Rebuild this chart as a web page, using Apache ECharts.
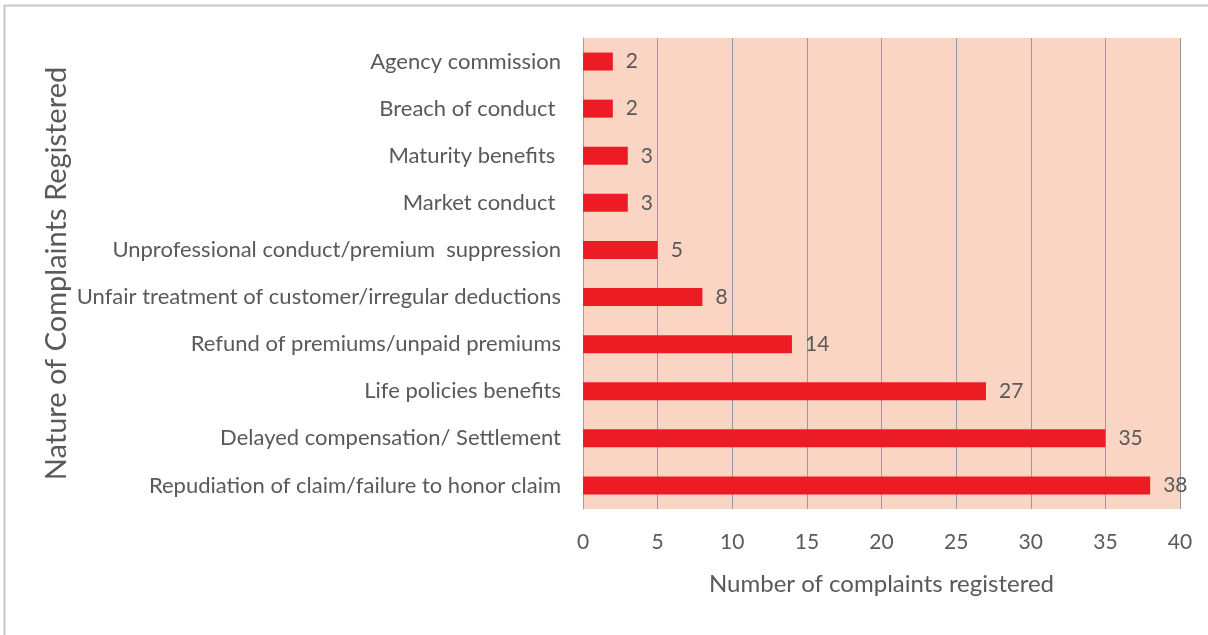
<!DOCTYPE html>
<html lang="en">
<head>
<meta charset="UTF-8">
<title>Nature of Complaints Registered</title>
<script src="https://cdn.jsdelivr.net/npm/echarts@6/dist/echarts.min.js"></script>
<style>
  html, body { margin: 0; padding: 0; background: #fff; }
</style>
</head>
<body>
<div id="main" style="width:1208px;height:635px;"></div>
<script type="text/javascript">
    // categories, bottom to top
    var categories = [
        'Repudiation of claim/failure to honor claim',
        'Delayed compensation/ Settlement',
        'Life policies benefits',
        'Refund of premiums/unpaid premiums',
        'Unfair treatment of customer/irregular deductions',
        'Unprofessional conduct/premium  suppression',
        'Market conduct ',
        'Maturity benefits ',
        'Breach of conduct ',
        'Agency commission'
    ];
    var complaints = [38, 35, 27, 14, 8, 5, 3, 3, 2, 2];
    var xTicks = [0, 5, 10, 15, 20, 25, 30, 35, 40];

    var textColor = '#595959';
    var font = 'Lato';

    var myChart = echarts.init(document.getElementById('main'));
    myChart.setOption({
        animation: false,
        grid: {
            left: 583,
            right: 28,
            top: 38,
            bottom: 126,
            show: true,
            backgroundColor: '#FBD5C4',
            borderWidth: 0
        },
        graphic: [
            { type: 'line', shape: { x1: 4.5, y1: 5, x2: 4.5, y2: 635 }, style: { stroke: '#c8c8c8', lineWidth: 2 } },
            { type: 'line', shape: { x1: 4, y1: 5.5, x2: 1208, y2: 5.5 }, style: { stroke: '#c8c8c8', lineWidth: 2 } }
        ],
        xAxis: {
            type: 'value',
            min: 0,
            max: 40,
            interval: 5,
            name: 'Number of complaints registered',
            nameLocation: 'middle',
            nameGap: 63,
            nameTextStyle: { color: textColor, fontSize: 24, fontFamily: font },
            axisLine: { show: false },
            axisTick: { show: false },
            axisLabel: {
                color: textColor, fontSize: 21, fontFamily: font, margin: 23,
                formatter: function (v) { return xTicks.indexOf(v) >= 0 ? String(v) : ''; }
            },
            splitLine: { show: true, lineStyle: { color: '#9a9a9a', width: 1 } }
        },
        yAxis: {
            type: 'category',
            data: categories,
            name: 'Nature of Complaints Registered',
            nameLocation: 'middle',
            nameGap: 512,
            nameRotate: 90,
            nameTextStyle: { color: textColor, fontSize: 29, fontFamily: font },
            axisLine: { show: true, lineStyle: { color: '#a0a0a0', width: 1 } },
            axisTick: { show: false },
            axisLabel: { color: textColor, fontSize: 22, fontFamily: font, margin: 22 }
        },
        series: [{
            name: 'Complaints',
            type: 'bar',
            data: complaints,
            barWidth: 18,
            itemStyle: { color: '#ED1C24' },
            label: {
                show: true,
                position: 'right',
                distance: 13,
                color: textColor,
                fontSize: 21,
                fontFamily: font
            }
        }]
    });
</script>
</body>
</html>
